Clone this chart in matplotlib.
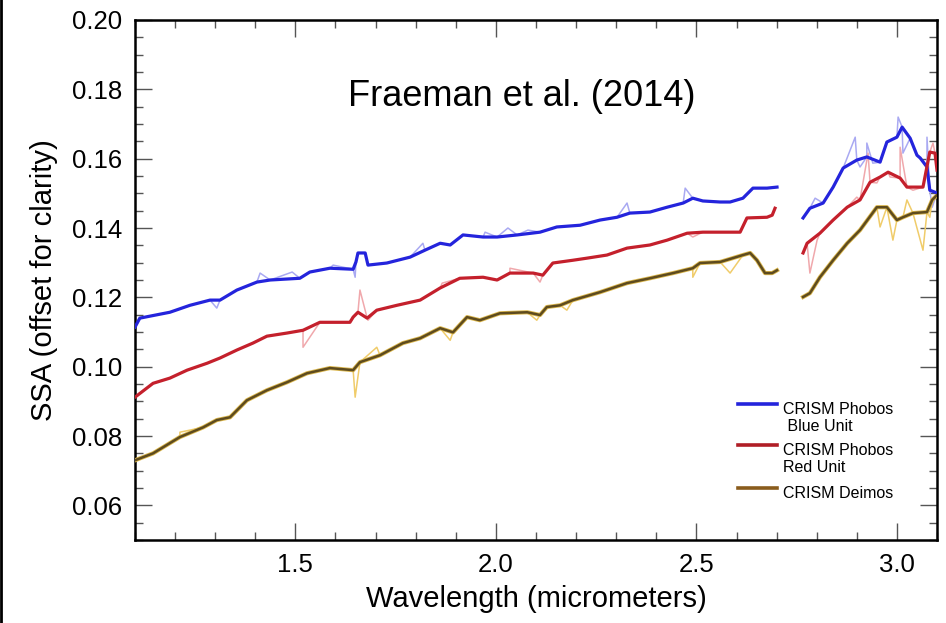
import numpy as np
import matplotlib
matplotlib.use("Agg")
import matplotlib.pyplot as plt
from matplotlib.lines import Line2D
from matplotlib.ticker import MultipleLocator

plt.rcParams["font.family"] = ["Liberation Sans", "DejaVu Sans"]

nan = np.nan

# -----------------------------
# Data
# -----------------------------
blue_x = [1.100, 1.112, 1.187, 1.237, 1.287, 1.312, 1.354, 1.404, 1.437, 1.511, 1.536,
          1.586, 1.644, 1.651, 1.656, 1.674, 1.681, 1.728, 1.786, 1.823, 1.861, 1.886,
          1.918, 1.968, 2.003, 2.053, 2.110, 2.152, 2.210, 2.260, 2.302, 2.334, 2.384,
          2.427, 2.467, 2.491, 2.516, 2.559, 2.584, 2.616, 2.641, 2.676, 2.701, 2.730,
          2.766, 2.783, 2.816, 2.841, 2.866, 2.900, 2.925, 2.958, 2.975, 3.000, 3.013,
          3.033, 3.050, 3.058, 3.075, 3.082, 3.100]
blue_y = [0.1114, 0.1140, 0.1157, 0.1177, 0.1192, 0.1192, 0.1221, 0.1244, 0.1250, 0.1255,
          0.1273, 0.1284, 0.1281, 0.1302, 0.1328, 0.1328, 0.1293, 0.1299, 0.1316, 0.1336,
          0.1356, 0.1351, 0.1380, 0.1374, 0.1374, 0.1380, 0.1388, 0.1403, 0.1408, 0.1423,
          0.1431, 0.1443, 0.1446, 0.1460, 0.1472, 0.1486, 0.1478, 0.1475, 0.1475, 0.1486,
          0.1515, 0.1515, 0.1518, nan,
          0.1429, 0.1457, 0.1472, 0.1518, 0.1573, 0.1596, 0.1605, 0.1590, 0.1648, 0.1662,
          0.1691, 0.1659, 0.1610, 0.1602, 0.1576, 0.1509, 0.1501]

red_x = [1.100, 1.145, 1.187, 1.230, 1.280, 1.312, 1.354, 1.394, 1.429, 1.479, 1.519,
         1.561, 1.636, 1.644, 1.656, 1.679, 1.703, 1.753, 1.811, 1.861, 1.910, 1.968,
         2.003, 2.035, 2.093, 2.117, 2.142, 2.192, 2.227, 2.277, 2.327, 2.384, 2.427,
         2.477, 2.516, 2.559, 2.609, 2.626, 2.676, 2.689, 2.696, 2.730,
         2.766, 2.776, 2.808, 2.841, 2.876, 2.908, 2.933, 2.958, 2.978, 3.008, 3.025,
         3.065, 3.082, 3.095, 3.100]
red_y = [0.0912, 0.0952, 0.0967, 0.0990, 0.1010, 0.1025, 0.1048, 0.1068, 0.1088, 0.1097,
         0.1105, 0.1128, 0.1128, 0.1143, 0.1157, 0.1140, 0.1163, 0.1177, 0.1192, 0.1227,
         0.1255, 0.1258, 0.1250, 0.1270, 0.1270, 0.1264, 0.1299, 0.1307, 0.1313, 0.1322,
         0.1342, 0.1351, 0.1365, 0.1385, 0.1388, 0.1388, 0.1388, 0.1429, 0.1431, 0.1437,
         0.1457, nan,
         0.1328, 0.1356, 0.1385, 0.1423, 0.1460, 0.1481, 0.1532, 0.1547, 0.1561, 0.1544,
         0.1518, 0.1518, 0.1619, 0.1616, 0.1567]

gold_x = [1.100, 1.145, 1.212, 1.270, 1.304, 1.337, 1.379, 1.429, 1.479, 1.529, 1.586,
          1.644, 1.661, 1.711, 1.768, 1.811, 1.861, 1.893, 1.928, 1.960, 2.010, 2.078,
          2.110, 2.127, 2.160, 2.192, 2.260, 2.327, 2.384, 2.442, 2.491, 2.509, 2.559,
          2.616, 2.634, 2.651, 2.671, 2.689, 2.701, 2.730,
          2.766, 2.783, 2.808, 2.841, 2.876, 2.908, 2.950, 2.975, 3.000, 3.015, 3.040,
          3.075, 3.088, 3.100]
gold_y = [0.0730, 0.0750, 0.0797, 0.0825, 0.0846, 0.0854, 0.0903, 0.0932, 0.0955, 0.0981,
          0.0996, 0.0990, 0.1013, 0.1033, 0.1068, 0.1082, 0.1111, 0.1099, 0.1143, 0.1134,
          0.1154, 0.1157, 0.1149, 0.1172, 0.1177, 0.1192, 0.1215, 0.1241, 0.1255, 0.1270,
          0.1284, 0.1299, 0.1302, 0.1322, 0.1328, 0.1307, 0.1270, 0.1270, 0.1278, nan,
          0.1201, 0.1212, 0.1258, 0.1307, 0.1356, 0.1394, 0.1460, 0.1460, 0.1423, 0.1431,
          0.1443, 0.1446, 0.1481, 0.1495]

# ruwe (niet gladgemaakte) pieken
blue_spike_x = [1.304, 1.412, 1.492, 1.594, 1.649, 1.818, 1.973, 2.030, 2.080, 2.327,
                2.472, 2.796, 2.896, 2.908, 2.925, 2.940, 3.003, 3.015, 3.075, 3.088]
blue_spike_y = [0.1169, 0.1270, 0.1273, 0.1293, 0.1258, 0.1356, 0.1388, 0.1400, 0.1394,
                0.1472, 0.1515, 0.1486, 0.1662, 0.1576, 0.1645, 0.1587, 0.1720, 0.1616,
                0.1662, 0.1460]
red_spike_x = [1.519, 1.661, 1.681, 1.866, 2.035, 2.110, 2.491, 2.783, 2.801, 2.900,
               2.928, 2.950, 2.983, 3.008, 3.040, 3.090]
red_spike_y = [0.1056, 0.1221, 0.1134, 0.1241, 0.1284, 0.1244, 0.1374, 0.1270, 0.1365,
               0.1489, 0.1616, 0.1530, 0.1547, 0.1633, 0.1509, 0.1645]
gold_spike_x = [1.212, 1.649, 1.703, 1.886, 2.102, 2.177, 2.491, 2.584, 2.958, 2.990,
                3.025, 3.065, 3.082]
gold_spike_y = [0.0811, 0.0912, 0.1056, 0.1076, 0.1134, 0.1163, 0.1258, 0.1270, 0.1403,
                0.1365, 0.1481, 0.1336, 0.1431]

labels = ["CRISM Phobos\n Blue Unit", "CRISM Phobos\nRed Unit", "CRISM Deimos"]


def raw_line(x, y, sx, sy):
    # gladde punten + pieken samenvoegen tot de ruwe lijn
    xx = np.array(list(x) + list(sx))
    yy = np.array(list(y) + list(sy))
    order = np.argsort(xx, kind="stable")
    return xx[order], yy[order]


def plot_spectra():
    fig = plt.figure(figsize=(9.46, 6.23), dpi=100)
    ax = fig.add_axes([0.1427, 0.1332, 0.8478, 0.8347])

    series = [
        (blue_x, blue_y, blue_spike_x, blue_spike_y, "#2424dc", "#a9a9f2", "#2424dc"),
        (red_x, red_y, red_spike_x, red_spike_y, "#c4202c", "#f0a8ac", "#b01e26"),
        (gold_x, gold_y, gold_spike_x, gold_spike_y, "#5e4b1e", "#f0cc6a", "#8a5c1c"),
    ]
    for x, y, sx, sy, col, light, _ in series:
        rx, ry = raw_line(x, y, sx, sy)
        ax.plot(rx, ry, color=light, lw=1.1, zorder=2)
        if col == "#5e4b1e":
            ax.plot(x, y, color="#dcb84e", lw=3.0, zorder=3)
            ax.plot(x, y, color=col, lw=1.8, zorder=4)
        else:
            ax.plot(x, y, color=col, lw=2.3, zorder=4)

    ax.set_xlim(1.1, 3.1)
    ax.set_ylim(0.05, 0.20)
    ax.xaxis.set_major_locator(MultipleLocator(0.5))
    ax.xaxis.set_minor_locator(MultipleLocator(0.1))
    ax.yaxis.set_major_locator(MultipleLocator(0.02))
    ax.yaxis.set_minor_locator(MultipleLocator(0.005))
    ax.set_xticks([1.5, 2.0, 2.5, 3.0])
    ax.set_xticklabels(["1.5", "2.0", "2.5", "3.0"])
    ax.set_yticks([0.06, 0.08, 0.10, 0.12, 0.14, 0.16, 0.18, 0.20])
    ax.set_yticklabels(["0.06", "0.08", "0.10", "0.12", "0.14", "0.16", "0.18", "0.20"])

    ax.tick_params(which="both", direction="in", top=True, right=True,
                   color="#555555", width=1.0, labelsize=18.5, pad=9)
    ax.tick_params(which="major", length=12)
    ax.tick_params(which="minor", length=5.5)
    for sp in ax.spines.values():
        sp.set_linewidth(1.8)
        sp.set_color("black")

    ax.set_xlabel("Wavelength (micrometers)", fontsize=21, labelpad=6)
    ax.set_ylabel("SSA (offset for clarity)", fontsize=21, labelpad=10)

    ax.text(0.4825, 0.852, "Fraeman et al. (2014)", transform=ax.transAxes,
            ha="center", va="center", fontsize=26)

    # legenda, handmatig zoals in het origineel
    ys = [0.262, 0.183, 0.100]
    for (_, _, _, _, _, _, lcol), lab, yy in zip(series, labels, ys):
        ax.plot([0.752, 0.8], [yy, yy], color=lcol, lw=2.6,
                transform=ax.transAxes, zorder=5)
        ax.text(0.808, yy + 0.003, lab, transform=ax.transAxes, ha="left", va="top",
                fontsize=11.5, linespacing=1.15)

    fig.add_artist(Line2D([0.0015, 0.0015], [0, 1], color="black", lw=2,
                          transform=fig.transFigure))

    fig.savefig("out.png", dpi=100)


if __name__ == "__main__":
    plot_spectra()
